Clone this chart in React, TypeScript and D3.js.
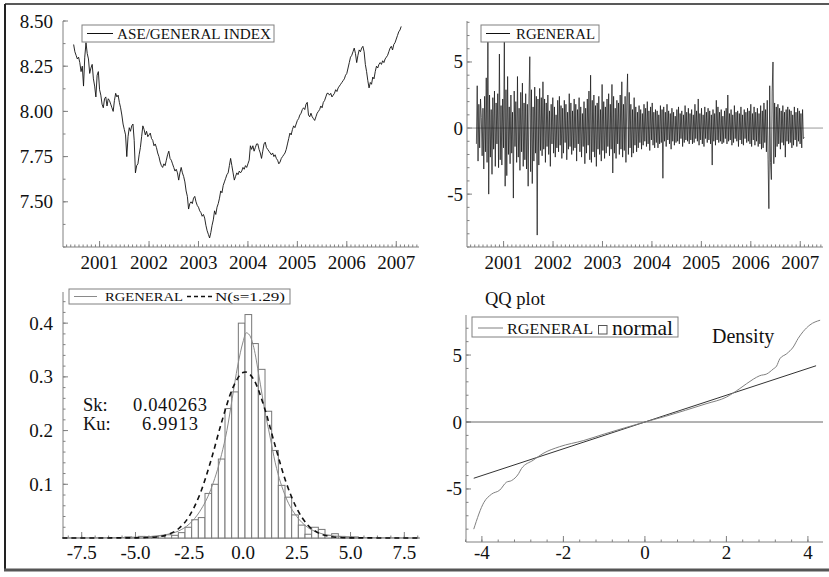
import React from 'react';
import * as d3 from 'd3';

const FONT = '"Liberation Serif", "Times New Roman", serif';
const AXIS = '#808080';

// tick labels
const yearTicks = [2001, 2002, 2003, 2004, 2005, 2006, 2007];
const indexTicks = [7.5, 7.75, 8.0, 8.25, 8.5];
const returnTicks = [-5, 0, 5];
const densYTicks = [0.1, 0.2, 0.3, 0.4];
const densXTicks = [-7.5, -5, -2.5, 0, 2.5, 5, 7.5];
const qqXTicks = [-4, -2, 0, 2, 4];
const qqYTicks = [-5, 0, 5];

// ASE general index (log), one value every 0.025 year from mid 2000
const indexStart = 2000.475;
const indexStep = 0.025;
const indexValues = [
  8.37, 8.33, 8.31, 8.29, 8.30, 8.27, 8.22, 8.25, 8.14, 8.30, 8.38, 8.32, 8.29, 8.21, 8.24, 8.26, 8.18, 8.14, 8.08, 8.20,
  8.22, 8.12, 8.09, 8.04, 8.02, 8.07, 8.08, 8.03, 8.07, 8.06, 8.04, 8.02, 8.00, 8.06, 8.10, 8.08, 8.09, 8.05, 8.02, 7.98,
  7.93, 7.90, 7.87, 7.75, 7.86, 7.91, 7.89, 7.92, 7.93, 7.84, 7.66, 7.70, 7.71, 7.76, 7.80, 7.86, 7.92, 7.90, 7.87, 7.89,
  7.86, 7.87, 7.88, 7.85, 7.84, 7.81, 7.82, 7.80, 7.77, 7.75, 7.72, 7.70, 7.69, 7.71, 7.70, 7.73, 7.76, 7.78, 7.74, 7.73,
  7.71, 7.69, 7.67, 7.68, 7.66, 7.62, 7.66, 7.69, 7.66, 7.64, 7.61, 7.56, 7.53, 7.46, 7.49, 7.50, 7.49, 7.52, 7.53, 7.50,
  7.48, 7.47, 7.45, 7.44, 7.42, 7.43, 7.41, 7.37, 7.34, 7.32, 7.30, 7.33, 7.37, 7.40, 7.45, 7.43, 7.47, 7.49, 7.52, 7.56,
  7.55, 7.59, 7.61, 7.63, 7.65, 7.66, 7.70, 7.74, 7.70, 7.66, 7.62, 7.64, 7.66, 7.65, 7.67, 7.66, 7.67, 7.69, 7.68, 7.70,
  7.69, 7.71, 7.73, 7.81, 7.79, 7.81, 7.78, 7.80, 7.82, 7.82, 7.79, 7.77, 7.74, 7.78, 7.82, 7.83, 7.80, 7.79, 7.78, 7.77,
  7.76, 7.77, 7.75, 7.76, 7.74, 7.73, 7.71, 7.72, 7.74, 7.75, 7.76, 7.77, 7.79, 7.82, 7.85, 7.88, 7.87, 7.90, 7.92, 7.91,
  7.93, 7.95, 7.96, 7.98, 7.99, 8.01, 8.02, 8.01, 8.04, 8.05, 7.98, 7.97, 7.99, 7.97, 7.96, 7.95, 7.97, 7.99, 8.00, 8.01,
  8.03, 8.02, 8.05, 8.06, 8.08, 8.10, 8.10, 8.09, 8.10, 8.08, 8.09, 8.10, 8.12, 8.11, 8.13, 8.14, 8.15, 8.16, 8.17, 8.18,
  8.20, 8.21, 8.24, 8.27, 8.30, 8.31, 8.33, 8.35, 8.32, 8.27, 8.31, 8.34, 8.33, 8.35, 8.36, 8.33, 8.26, 8.22, 8.17, 8.13,
  8.16, 8.15, 8.19, 8.18, 8.22, 8.25, 8.24, 8.26, 8.27, 8.26, 8.28, 8.27, 8.29, 8.30, 8.31, 8.33, 8.35, 8.36, 8.34, 8.37,
  8.38, 8.40, 8.42, 8.44, 8.45, 8.47,
];

// RGENERAL returns, evenly spaced from mid 2000 to early 2007
const returnStart = 2000.45;
const returnEnd = 2007.08;
const returnValues = [
  -1.2, 3.2, -2.5, 1.8, -1.5, 2.2, 0.8, -2.1, 1.5, -3.1, 2.4, -1.8, 3.8, -2.6, 7.6, -5.0, 2.5, -2.2, 1.4, -3.5,
  2.3, -1.6, 2.8, -2.9, 1.9, -1.2, 2.6, -3.0, 5.6, -2.4, 1.7, -2.8, 2.2, -1.5, 6.8, -4.4, 2.9, -3.6, 3.9, -2.0,
  1.6, -2.7, 2.5, -1.9, 1.2, -5.3, 2.8, -1.4, 2.0, -2.6, 3.9, -2.2, 1.5, -3.2, 2.7, -1.8, 3.4, -2.9, 1.9, -2.4,
  2.6, -3.1, 1.8, -4.4, 2.2, 5.4, -3.3, 2.9, -4.2, 1.6, -2.5, 3.1, -1.9, 2.4, -8.1, 2.2, -2.8, 3.0, -1.7, 2.3,
  -2.1, 3.5, -1.6, 2.2, -2.6, 1.9, -1.4, 2.5, -2.0, 1.3, -2.9, 1.8, -1.2, 2.3, -1.9, 1.6, -2.2, 1.0, -1.5, 2.1,
  -1.8, 2.4, -1.3, 1.7, -2.3, 1.5, -1.9, 2.1, -1.1, 1.8, -2.4, 1.2, -1.6, 2.6, -1.4, 1.9, -2.0, 1.3, -1.7, 2.2,
  -1.5, 1.8, -2.5, 1.4, -1.2, 2.3, -1.8, 1.6, -2.2, 1.1, -1.4, 2.0, -2.7, 1.5, -1.9, 2.2, -1.3, 2.8, -2.4, 4.0,
  -2.6, 2.1, -1.8, 2.5, -2.2, 1.7, -2.9, 1.9, -1.6, 2.4, -2.0, 1.4, -2.5, 3.3, -1.7, 2.0, -2.3, 1.6, -1.9, 2.2,
  -1.4, 2.6, -2.1, 1.8, -1.6, 3.3, -3.4, 2.4, -1.9, 1.5, -2.3, 2.1, -1.2, 1.9, -2.0, 2.5, -1.6, 3.5, -2.2, 1.8,
  -1.7, 2.4, -2.6, 1.9, 4.1, -2.0, 2.7, -1.5, 1.8, -2.2, 1.4, -1.9, 2.3, -1.3, 1.6, -1.8, 1.2, -1.5, 1.7, -1.1,
  1.4, -1.6, 1.1, -1.3, 1.8, -1.0, 1.5, -1.4, 2.0, -1.2, 1.3, -1.7, 1.6, -0.9, 1.9, -1.3, 1.2, -1.5, 1.4, -1.1,
  1.3, -1.5, 1.0, -1.2, 1.7, -1.1, 1.4, -3.8, 1.6, -1.0, 1.2, -1.4, 1.8, -0.9, 1.3, -1.2, 1.1, -1.6, 1.5, -1.0,
  1.2, -1.3, 0.9, -1.1, 1.4, -1.0, 1.6, -1.2, 1.1, -0.8, 1.3, -1.4, 1.0, -1.1, 1.7, -0.9, 1.2, -1.0, 1.5, -1.2,
  1.1, -0.9, 1.4, -1.2, 1.0, -1.1, 1.8, -0.8, 1.3, -1.0, 2.2, -1.3, 1.1, -0.9, 1.5, -1.2, 1.0, -1.4, 1.6, -0.8,
  1.2, -1.1, 1.5, -0.9, 1.3, -1.2, 1.0, -2.8, 1.4, -1.0, 1.1, -1.3, 2.1, -0.9, 1.6, -1.1, 1.2, -1.0, 1.4, -1.2,
  0.9, -1.1, 1.3, -0.8, 1.5, -1.2, 2.5, -1.0, 1.1, -0.9, 1.4, -1.3, 1.0, -1.1, 1.7, -0.8, 1.2, -1.0, 1.3, -1.4,
  1.1, -0.9, 1.6, -1.2, 1.0, -1.3, 1.4, -0.8, 1.2, -1.1, 1.5, -1.0, 1.3, -1.2, 1.8, -1.4, 1.1, -0.9, 1.6, -1.3,
  1.2, -1.0, 1.5, -1.4, 1.1, -1.2, 1.7, -1.6, 1.3, -1.5, 1.9, -1.1, 1.4, -1.8, 2.1, -2.4, -6.1, 3.2, -2.6, -3.9,
  2.8, 5.0, -2.7, 1.9, -2.2, 1.6, -1.4, 1.8, -1.2, 1.5, -1.6, 1.3, -1.1, 1.7, -1.3, 1.2, -2.2, 1.4, -1.0, 1.6,
  -1.2, 1.4, -1.1, 1.3, -1.5, 1.0, -1.3, 1.6, -0.9, 1.2, -1.4, 1.5, -1.0, 1.3, -1.2, 1.1, -1.5, 1.4, -0.8, -0.7,
];

// histogram of RGENERAL (density per bin)
const histFirstEdge = -5.487;
const histWidth = 0.31;
const histDensity = [
  0.002, 0.001, 0.003, 0.002, 0.003, 0.004, 0.006, 0.005, 0.01, 0.02, 0.034, 0.038, 0.083, 0.1, 0.147, 0.241, 0.272,
  0.4, 0.416, 0.362, 0.314, 0.236, 0.163, 0.098, 0.076, 0.043, 0.024, 0.007, 0.02, 0.016, 0.005, 0.008, 0.003, 0.002, 0.002,
];

// estimated density (solid grey)
const kdeX = [-8.4, -6, -5, -4.5, -4, -3.5, -3, -2.5, -2, -1.5, -1, -0.75, -0.5, -0.25, 0, 0.15, 0.3, 0.5, 0.75, 1, 1.25, 1.5, 2, 2.5, 3, 3.5, 4, 4.5, 5, 6, 8.2];
const kdeY = [0, 0.0005, 0.0015, 0.002, 0.004, 0.007, 0.013, 0.026, 0.05, 0.09, 0.155, 0.2, 0.26, 0.32, 0.365, 0.382, 0.378, 0.355, 0.3, 0.24, 0.19, 0.14, 0.075, 0.04, 0.02, 0.01, 0.005, 0.003, 0.0015, 0.0005, 0];

// N(s=1.29) reference (dashed)
const normX = [-8.4, -5, -4.5, -4, -3.5, -3, -2.5, -2, -1.5, -1, -0.5, 0, 0.1, 0.5, 1, 1.5, 2, 2.5, 3, 3.5, 4, 4.5, 5, 8.2];
const normY = [0, 0.0003, 0.0008, 0.002, 0.0063, 0.0172, 0.0406, 0.082, 0.143, 0.215, 0.277, 0.308, 0.309, 0.295, 0.242, 0.171, 0.104, 0.055, 0.0246, 0.0095, 0.0032, 0.001, 0.0003, 0];

// QQ plot: normal quantile vs sample quantile
const qqTheo = [-4.2, -3.95, -3.76, -3.56, -3.4, -3.27, -3.1, -3.03, -2.74, -2.5, -2.1, -1.5, -1, -0.5, 0, 0.5, 1, 1.5, 2, 2.33, 2.66, 2.82, 2.99, 3.15, 3.23, 3.31, 3.48, 3.64, 3.76, 3.88, 4.05, 4.3];
const qqSample = [-8.0, -6.0, -5.38, -5.08, -4.5, -4.37, -3.86, -3.48, -2.85, -2.35, -1.85, -1.38, -0.9, -0.44, 0, 0.42, 0.88, 1.36, 1.86, 2.5, 3.2, 3.46, 3.59, 3.96, 4.17, 4.72, 5.1, 5.6, 6.24, 6.74, 7.25, 7.6];
const qqLineX = [-4.2, 4.2];
const qqLineY = [-4.2, 4.2];

type Scale = d3.ScaleLinear<number, number>;

function Axes(props: {
  x: Scale; y: Scale; xMajor: number[]; xMinor: number[]; yMajor: number[]; yMinor: number[];
  xFmt: (v: number) => string; yFmt: (v: number) => string; yGap: number; xLabelY: number;
}) {
  const { x, y, xMajor, xMinor, yMajor, yMinor, xFmt, yFmt, yGap, xLabelY } = props;
  const [x0, x1] = x.range();
  const [yb, yt] = y.range();
  return (
    <g>
      <line x1={x0} x2={x0} y1={yt} y2={yb} stroke={AXIS} strokeWidth={1} />
      <line x1={x0} x2={x1} y1={yb} y2={yb} stroke={AXIS} strokeWidth={1} />
      {yMinor.map((v, i) => (
        <line key={'ym' + i} x1={x0} x2={x0 + 2.5} y1={y(v)} y2={y(v)} stroke={AXIS} strokeWidth={1} />
      ))}
      {yMajor.map((v, i) => (
        <line key={'yM' + i} x1={x0} x2={x0 + 5} y1={y(v)} y2={y(v)} stroke={AXIS} strokeWidth={1} />
      ))}
      {xMinor.map((v, i) => (
        <line key={'xm' + i} x1={x(v)} x2={x(v)} y1={yb} y2={yb - 2.5} stroke={AXIS} strokeWidth={1} />
      ))}
      {xMajor.map((v, i) => (
        <line key={'xM' + i} x1={x(v)} x2={x(v)} y1={yb} y2={yb - 6} stroke={AXIS} strokeWidth={1} />
      ))}
      {yMajor.map((v, i) => (
        <text key={'yl' + i} x={x0 - yGap} y={y(v) + 6.5} textAnchor="end" fontSize={19} fill="#111">{yFmt(v)}</text>
      ))}
      {xMajor.map((v, i) => (
        <text key={'xl' + i} x={x(v)} y={xLabelY} textAnchor="middle" fontSize={19} fill="#111">{xFmt(v)}</text>
      ))}
    </g>
  );
}

export default function App() {
  // panel scales
  const x1 = d3.scaleLinear().domain([2000.26, 2007.46]).range([63, 419]);
  const y1 = d3.scaleLinear().domain([7.25, 8.5]).range([247, 21]);
  const x2 = d3.scaleLinear().domain([2000.26, 2007.46]).range([467, 823]);
  const y2 = d3.scaleLinear().domain([-9.0, 8.1]).range([247, 21]);
  const x3 = d3.scaleLinear().domain([-8.37, 8.23]).range([63, 420]);
  const y3 = d3.scaleLinear().domain([0, 0.458]).range([538, 292]);
  const x4 = d3.scaleLinear().domain([-4.39, 4.37]).range([466, 823]);
  const y4 = d3.scaleLinear().domain([-8.96, 7.99]).range([542, 315]);

  const months = d3.range(2000 + 4 / 12, 2007.46, 1 / 12);
  const returnStep = (returnEnd - returnStart) / (returnValues.length - 1);

  const indexPath = d3.line<number>()
    .x((_, i) => x1(indexStart + i * indexStep))
    .y((d) => y1(d))(indexValues) || '';
  const returnPath = d3.line<number>()
    .x((_, i) => x2(returnStart + i * returnStep))
    .y((d) => y2(d))(returnValues) || '';
  const kdePath = d3.line<number>().x((d) => x3(d)).y((_, i) => y3(kdeY[i])).curve(d3.curveMonotoneX)(kdeX) || '';
  const normPath = d3.line<number>().x((d) => x3(d)).y((_, i) => y3(normY[i])).curve(d3.curveMonotoneX)(normX) || '';
  const qqPath = d3.line<number>().x((d) => x4(d)).y((_, i) => y4(qqSample[i])).curve(d3.curveMonotoneX)(qqTheo) || '';
  const qqLine = d3.line<number>().x((d) => x4(d)).y((_, i) => y4(qqLineY[i]))(qqLineX) || '';

  return (
    <svg width={829} height={577} fontFamily={FONT}
      style={{ position: 'absolute', left: 0, top: 0, background: '#fff' }}>
      {/* frame */}
      <line x1={5} x2={829} y1={4} y2={4} stroke="#222" strokeWidth={1.5} />
      <line x1={5} x2={5} y1={4} y2={570} stroke="#222" strokeWidth={2} />
      <line x1={4} x2={829} y1={570} y2={570} stroke="#555" strokeWidth={3} />

      {/* top left: index */}
      <Axes x={x1} y={y1} xMajor={yearTicks} xMinor={months} yMajor={indexTicks}
        yMinor={d3.range(7.25, 8.51, 0.125)} xFmt={(v) => String(v)} yFmt={(v) => v.toFixed(2)}
        yGap={10} xLabelY={268.5} />
      <path d={indexPath} fill="none" stroke="#111" strokeWidth={0.9} />
      <rect x={82} y={25} width={192} height={17} fill="#fff" stroke={AXIS} strokeWidth={1} />
      <line x1={87} x2={113} y1={33.5} y2={33.5} stroke="#111" strokeWidth={1} />
      <text x={117} y={38.5} fontSize={14} textLength={154} lengthAdjust="spacingAndGlyphs" fill="#111">ASE/GENERAL INDEX</text>

      {/* top right: returns */}
      <Axes x={x2} y={y2} xMajor={yearTicks} xMinor={months} yMajor={returnTicks}
        yMinor={d3.range(-9, 8.1, 1)} xFmt={(v) => String(v)} yFmt={(v) => String(v)}
        yGap={4} xLabelY={268.5} />
      <line x1={467} x2={823} y1={y2(0)} y2={y2(0)} stroke="#999" strokeWidth={1} />
      <path d={returnPath} fill="none" stroke="#111" strokeWidth={0.7} />
      <rect x={481} y={25} width={118} height={17} fill="#fff" stroke={AXIS} strokeWidth={1} />
      <line x1={486} x2={510} y1={33.5} y2={33.5} stroke="#111" strokeWidth={1} />
      <text x={516} y={38.5} fontSize={14} textLength={79} lengthAdjust="spacingAndGlyphs" fill="#111">RGENERAL</text>

      {/* bottom left: density */}
      <Axes x={x3} y={y3} xMajor={densXTicks} xMinor={d3.range(-8.125, 8.23, 0.625)} yMajor={densYTicks}
        yMinor={d3.range(0.02, 0.458, 0.02)} xFmt={(v) => v.toFixed(1)} yFmt={(v) => v.toFixed(1)}
        yGap={10} xLabelY={558.5} />
      {histDensity.map((d, i) => {
        const lo = histFirstEdge + i * histWidth;
        return (
          <rect key={'h' + i} x={x3(lo)} y={y3(d)} width={x3(lo + histWidth) - x3(lo)}
            height={y3(0) - y3(d)} fill="#fff" stroke="#777" strokeWidth={1} />
        );
      })}
      <path d={kdePath} fill="none" stroke="#8a8a8a" strokeWidth={1} />
      <path d={normPath} fill="none" stroke="#111" strokeWidth={1.6} strokeDasharray="5,4" />
      <rect x={69} y={289} width={221} height={15} fill="#fff" stroke={AXIS} strokeWidth={1} />
      <line x1={74} x2={97} y1={296.5} y2={296.5} stroke="#8a8a8a" strokeWidth={1} />
      <text x={105} y={301} fontSize={13} textLength={78} lengthAdjust="spacingAndGlyphs" fill="#111">RGENERAL</text>
      <line x1={187} x2={212} y1={296.5} y2={296.5} stroke="#111" strokeWidth={1.4} strokeDasharray="4,3" />
      <text x={215} y={301} fontSize={13} textLength={70} lengthAdjust="spacingAndGlyphs" fill="#111">N(s=1.29)</text>
      <text x={83} y={411} fontSize={18.5} fill="#111">Sk:</text>
      <text x={133} y={411} fontSize={18.5} textLength={74} fill="#111">0.040263</text>
      <text x={83} y={429.5} fontSize={18.5} fill="#111">Ku:</text>
      <text x={142} y={429.5} fontSize={18.5} textLength={56} fill="#111">6.9913</text>

      {/* bottom right: QQ */}
      <Axes x={x4} y={y4} xMajor={qqXTicks} xMinor={d3.range(-4.4, 4.4, 0.4)} yMajor={qqYTicks}
        yMinor={d3.range(-8, 8, 1)} xFmt={(v) => String(v)} yFmt={(v) => String(v)}
        yGap={4} xLabelY={558.5} />
      <line x1={466} x2={823} y1={y4(0)} y2={y4(0)} stroke="#666" strokeWidth={1} />
      <path d={qqLine} fill="none" stroke="#333" strokeWidth={1} />
      <path d={qqPath} fill="none" stroke="#808080" strokeWidth={1} />
      <text x={485} y={305} fontSize={18.5} fill="#111">QQ plot</text>
      <text x={712} y={343} fontSize={20} fill="#111">Density</text>
      <rect x={472} y={317} width={206} height={20} fill="#fff" stroke={AXIS} strokeWidth={1} />
      <line x1={478} x2={503} y1={328} y2={328} stroke="#808080" strokeWidth={1} />
      <text x={507} y={333.5} fontSize={14} textLength={86} lengthAdjust="spacingAndGlyphs" fill="#111">RGENERAL</text>
      <rect x={598.5} y={325.5} width={8.5} height={8.5} fill="#fff" stroke="#555" strokeWidth={1} />
      <text x={612} y={334.5} fontSize={21} textLength={61} lengthAdjust="spacingAndGlyphs" fill="#111">normal</text>
    </svg>
  );
}
